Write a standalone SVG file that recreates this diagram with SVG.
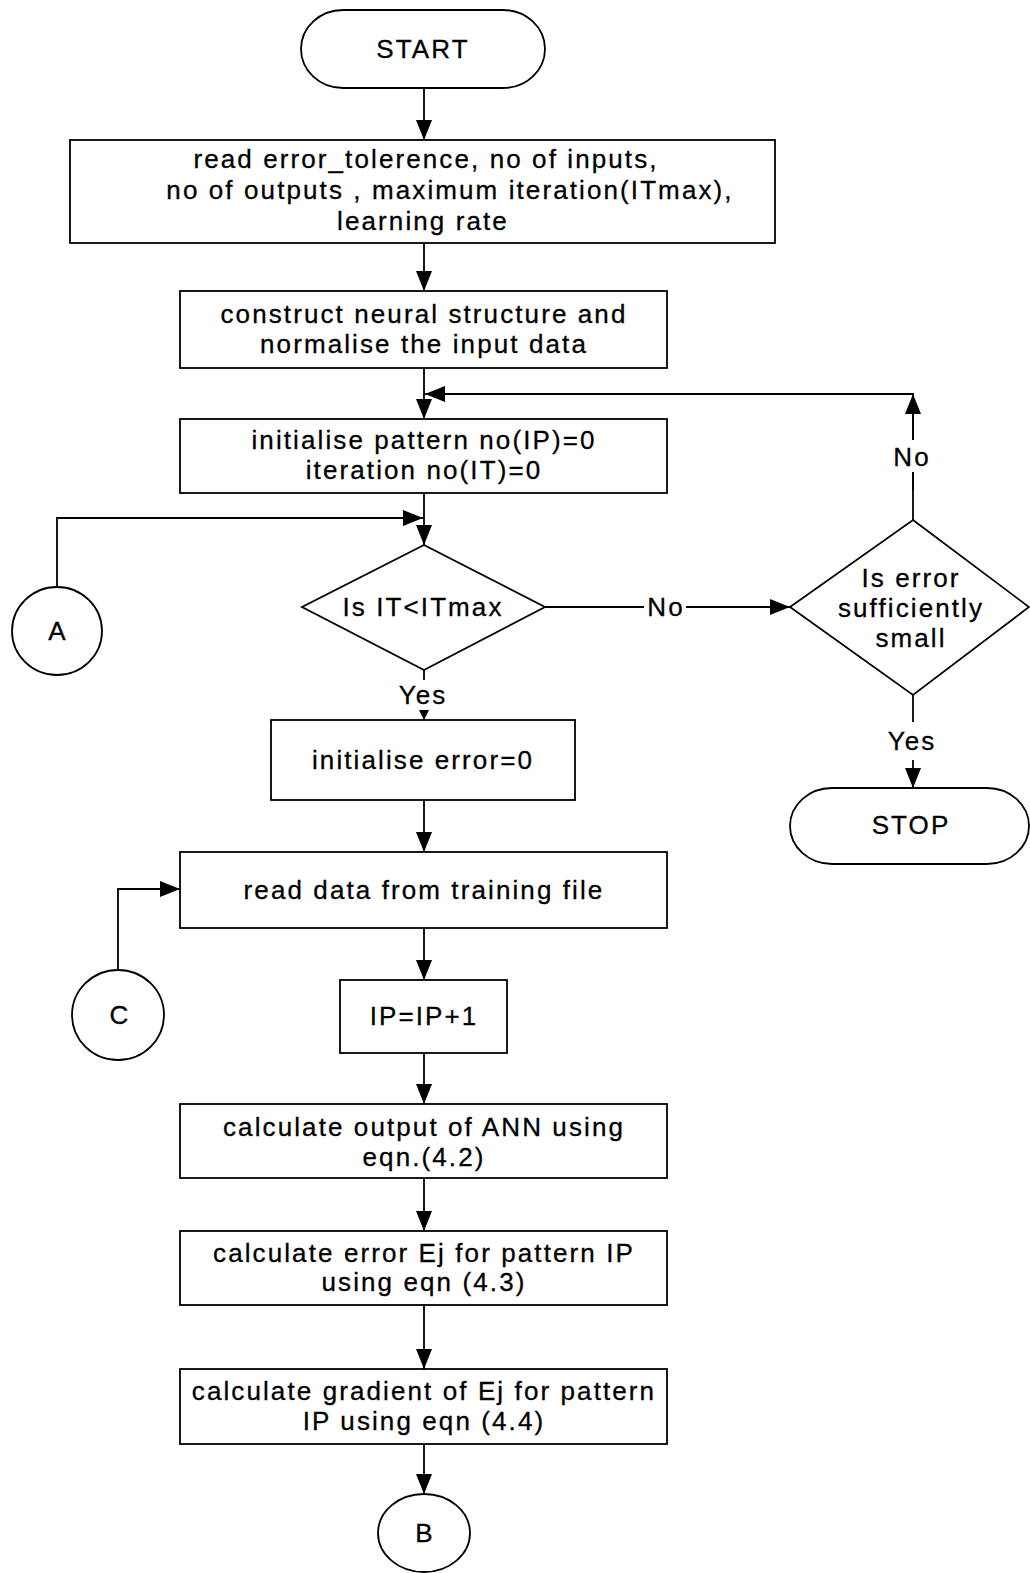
<svg xmlns="http://www.w3.org/2000/svg" width="1030" height="1573" viewBox="0 0 1030 1573">
<style>
.s{fill:#fff;stroke:#000;stroke-width:1.8}
.t{font-family:"Liberation Sans",Arial,sans-serif;font-size:26px;letter-spacing:2.1px;text-anchor:middle;fill:#000;stroke:#000;stroke-width:0.3}
.c{fill:none;stroke:#000;stroke-width:1.8}
.lb{fill:#fff;stroke:none}
</style>
<defs>
<marker id="ah" markerUnits="userSpaceOnUse" markerWidth="20" markerHeight="16" viewBox="0 0 20 16" refX="20" refY="8" orient="auto"><path d="M0,0 L20,8 L0,16 z" fill="#000"/></marker>
<marker id="as" markerUnits="userSpaceOnUse" markerWidth="10" markerHeight="10" viewBox="0 0 10 10" refX="10" refY="5" orient="auto"><path d="M0,0 L10,5 L0,10 z" fill="#000"/></marker>
</defs>
<rect width="1030" height="1573" fill="#fff"/>
<g id="connectors">
<line class="c" x1="424" y1="88" x2="424" y2="140" marker-end="url(#ah)"/>
<line class="c" x1="424" y1="243" x2="424" y2="291" marker-end="url(#ah)"/>
<line class="c" x1="424" y1="368" x2="424" y2="419" marker-end="url(#ah)"/>
<polyline class="c" points="913,490 913,394 425,394" marker-end="url(#ah)"/>
<line class="c" x1="913" y1="520" x2="913" y2="394" marker-end="url(#ah)"/>
<line class="c" x1="424" y1="493" x2="424" y2="545" marker-end="url(#ah)"/>
<polyline class="c" points="57,587 57,518 423,518" marker-end="url(#ah)"/>
<line class="c" x1="545" y1="607" x2="790" y2="607" marker-end="url(#ah)"/>
<line class="c" x1="424" y1="670" x2="424" y2="680"/>
<line class="c" x1="424" y1="712" x2="424" y2="720" marker-end="url(#as)"/>
<line class="c" x1="913" y1="695" x2="913" y2="722"/>
<line class="c" x1="913" y1="760" x2="913" y2="788" marker-end="url(#ah)"/>
<line class="c" x1="424" y1="800" x2="424" y2="852" marker-end="url(#ah)"/>
<polyline class="c" points="118,970 118,889 180,889" marker-end="url(#ah)"/>
<line class="c" x1="424" y1="928" x2="424" y2="980" marker-end="url(#ah)"/>
<line class="c" x1="424" y1="1053" x2="424" y2="1104" marker-end="url(#ah)"/>
<line class="c" x1="424" y1="1178" x2="424" y2="1231" marker-end="url(#ah)"/>
<line class="c" x1="424" y1="1305" x2="424" y2="1369" marker-end="url(#ah)"/>
<line class="c" x1="424" y1="1444" x2="424" y2="1494" marker-end="url(#ah)"/>
<rect class="lb" x="644" y="592" width="42" height="30"/>
<text class="t" x="666" y="616">No</text>
<rect class="lb" x="890" y="440" width="46" height="32"/>
<text class="t" x="912" y="466">No</text>
<text class="t" x="912" y="750">Yes</text>
<text class="t" x="423" y="704">Yes</text>
</g>
<g id="start">
<rect class="s" x="301" y="10" width="244" height="78" rx="42" ry="39"/>
<text class="t" x="423" y="58">START</text>
</g>
<g id="read-params">
<rect class="s" x="70" y="140" width="705" height="103"/>
<text class="t" x="426" y="168">read error_tolerence, no of inputs,</text>
<text class="t" x="450" y="199">no of outputs ,  maximum iteration(ITmax),</text>
<text class="t" x="423" y="230">learning rate</text>
</g>
<g id="construct">
<rect class="s" x="180" y="291" width="487" height="77"/>
<text class="t" x="424" y="323">construct neural structure and</text>
<text class="t" x="424" y="353">normalise the input data</text>
</g>
<g id="init-pattern">
<rect class="s" x="180" y="419" width="487" height="74"/>
<text class="t" x="424" y="449">initialise pattern no(IP)=0</text>
<text class="t" x="424" y="479">iteration no(IT)=0</text>
</g>
<g id="connector-a">
<ellipse class="s" cx="57" cy="631" rx="45" ry="44"/>
<text class="t" x="58" y="640">A</text>
</g>
<g id="decision-it">
<polygon class="s" points="424,545 545,607 424,670 302,607"/>
<text class="t" x="423" y="616">Is IT&lt;ITmax</text>
</g>
<g id="decision-error">
<polygon class="s" points="913,520 1029,607 913,695 790,607"/>
<text class="t" x="911" y="587">Is error</text>
<text class="t" x="911" y="617">sufficiently</text>
<text class="t" x="911" y="647">small</text>
</g>
<g id="stop">
<rect class="s" x="790" y="788" width="239" height="76" rx="42" ry="38"/>
<text class="t" x="911" y="834">STOP</text>
</g>
<g id="init-error">
<rect class="s" x="271" y="720" width="304" height="80"/>
<text class="t" x="423" y="769">initialise error=0</text>
</g>
<g id="read-data">
<rect class="s" x="180" y="852" width="487" height="76"/>
<text class="t" x="424" y="899">read data from training file</text>
</g>
<g id="connector-c">
<ellipse class="s" cx="118" cy="1015" rx="46" ry="45"/>
<text class="t" x="120" y="1024">C</text>
</g>
<g id="ip-inc">
<rect class="s" x="340" y="980" width="167" height="73"/>
<text class="t" x="424" y="1025">IP=IP+1</text>
</g>
<g id="calc-output">
<rect class="s" x="180" y="1104" width="487" height="74"/>
<text class="t" x="424" y="1136">calculate output of ANN using</text>
<text class="t" x="424" y="1166">eqn.(4.2)</text>
</g>
<g id="calc-error">
<rect class="s" x="180" y="1231" width="487" height="74"/>
<text class="t" x="424" y="1262">calculate error Ej for pattern IP</text>
<text class="t" x="424" y="1291">using eqn (4.3)</text>
</g>
<g id="calc-gradient">
<rect class="s" x="180" y="1369" width="487" height="75"/>
<text class="t" x="424" y="1400">calculate gradient of Ej for pattern</text>
<text class="t" x="424" y="1430">IP using eqn (4.4)</text>
</g>
<g id="connector-b">
<ellipse class="s" cx="424" cy="1533" rx="46" ry="39"/>
<text class="t" x="425" y="1542">B</text>
</g>
</svg>
